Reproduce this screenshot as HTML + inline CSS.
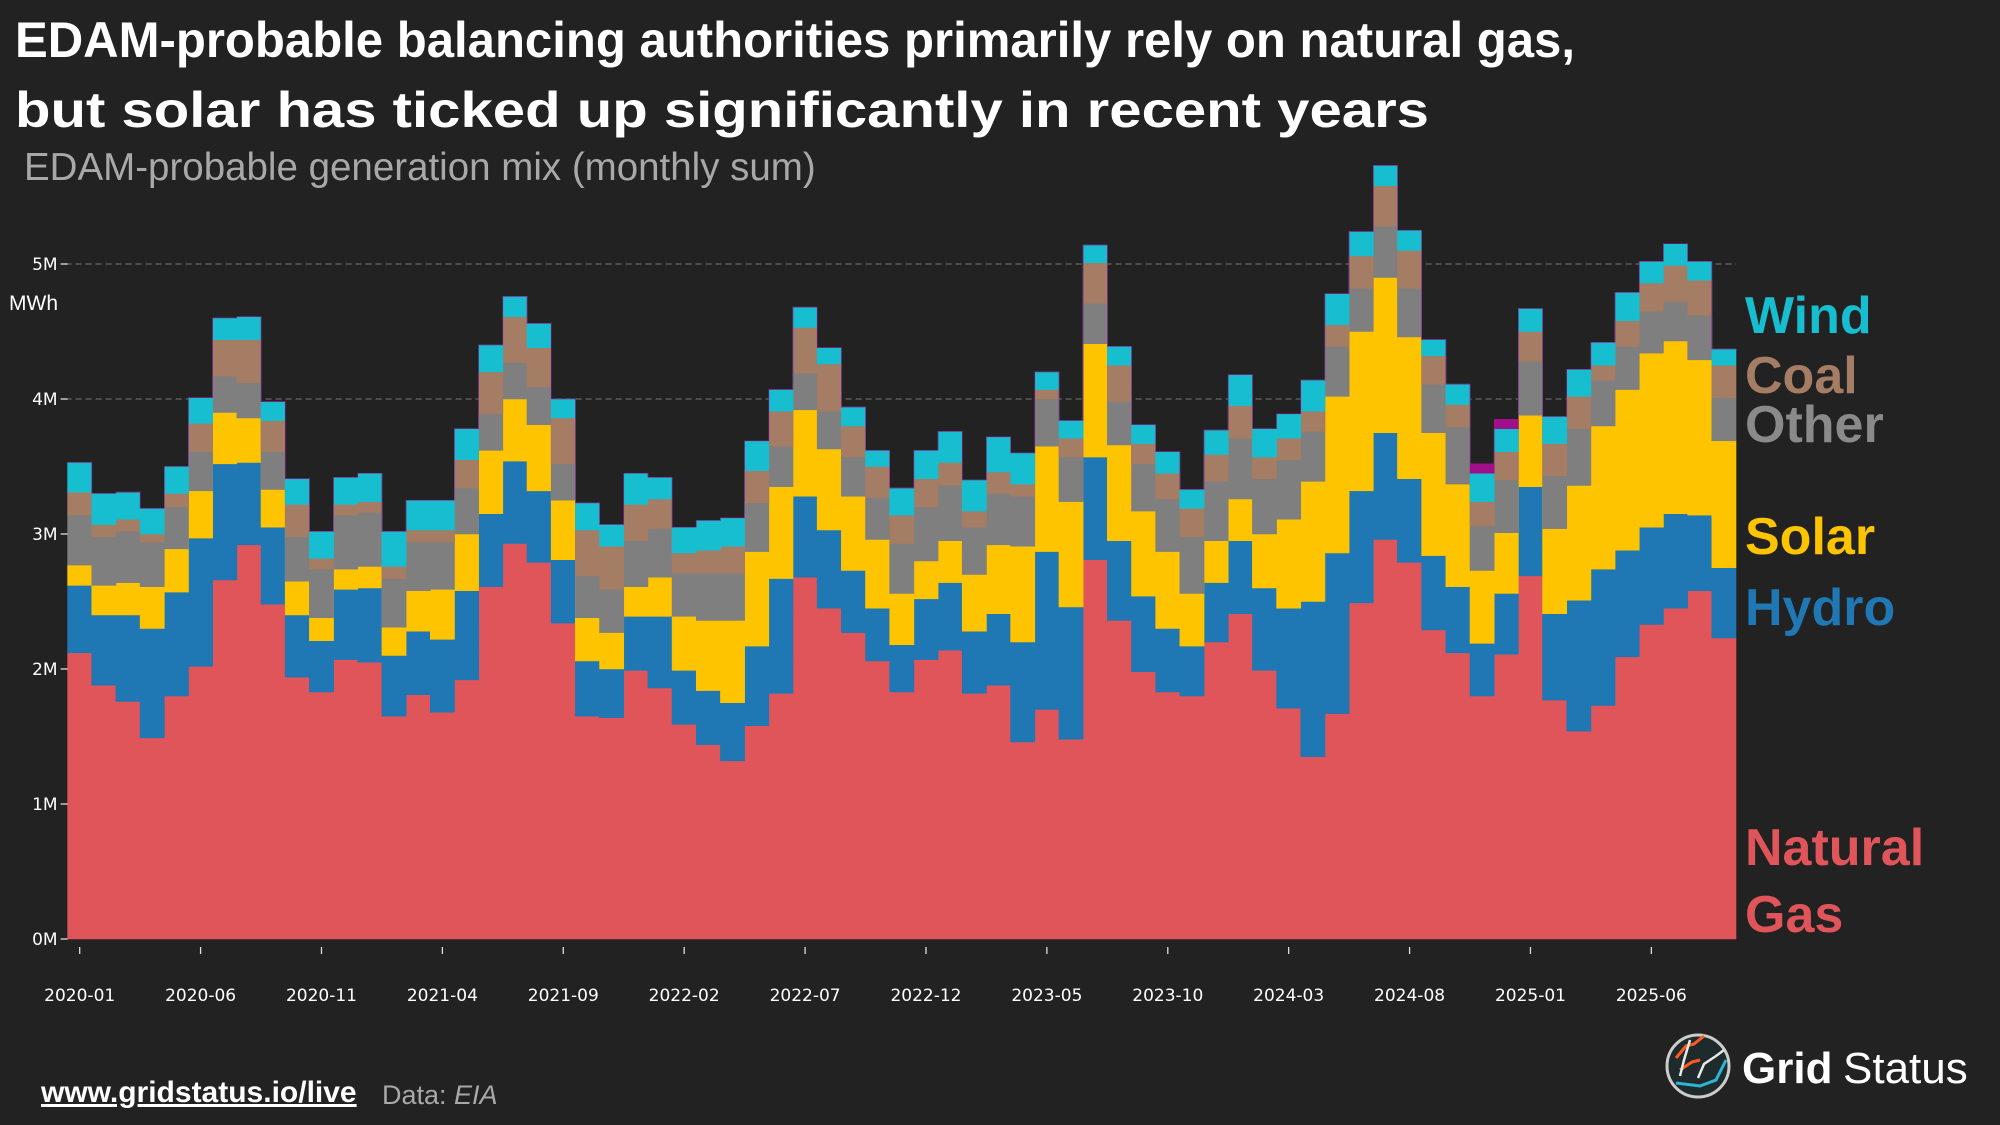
<!DOCTYPE html>
<html><head><meta charset="utf-8">
<style>
html,body{margin:0;padding:0;background:#222222;}
body{width:2000px;height:1125px;overflow:hidden;position:relative;font-family:"Liberation Sans",sans-serif;}
svg{position:absolute;left:0;top:0;}
</style></head>
<body>
<svg id="chart" width="2000" height="1125" viewBox="0 0 2000 1125">
  <rect x="0" y="0" width="2000" height="1125" fill="#222222"/>
  <text x="15" y="57" fill="#ffffff" font-size="50" font-weight="bold" textLength="1560" lengthAdjust="spacingAndGlyphs" font-family="Liberation Sans, sans-serif">EDAM-probable balancing authorities primarily rely on natural gas,</text>
  <text x="15" y="127" fill="#ffffff" font-size="50" font-weight="bold" textLength="1414" lengthAdjust="spacingAndGlyphs" font-family="Liberation Sans, sans-serif">but solar has ticked up significantly in recent years</text>
  <text x="24" y="180" fill="#a8a8a8" font-size="38.5" font-family="Liberation Sans, sans-serif">EDAM-probable generation mix (monthly sum)</text>
  <text x="9" y="310" fill="#ffffff" font-size="21" font-family="Liberation Sans, sans-serif">MWh</text>
  <g id="grid"></g>
  <g id="areas"></g>
  <g id="axes"></g>
  <g id="legend">
    <text x="1745" y="333" fill="#17becf" font-size="52" font-weight="bold">Wind</text>
    <text x="1745" y="393" fill="#a57c64" font-size="52" font-weight="bold">Coal</text>
    <text x="1745" y="442" fill="#8a8a8a" font-size="52" font-weight="bold">Other</text>
    <text x="1745" y="554" fill="#ffc400" font-size="52" font-weight="bold">Solar</text>
    <text x="1745" y="625" fill="#1f77b4" font-size="52" font-weight="bold">Hydro</text>
    <text x="1745" y="865" fill="#e0555a" font-size="52" font-weight="bold">Natural</text>
    <text x="1745" y="932" fill="#e0555a" font-size="52" font-weight="bold">Gas</text>
  </g>
  <text x="41" y="1102" fill="#ffffff" font-size="30" font-weight="bold" text-decoration="underline">www.gridstatus.io/live</text>
  <text x="382" y="1104" fill="#a8a8a8" font-size="27">Data: <tspan font-style="italic">EIA</tspan></text>
  <g>
    <circle cx="1698" cy="1066" r="31" fill="#1f2a2c" stroke="#cccccc" stroke-width="3"/>
    <path d="M1676 1058 L1686 1046 L1694 1044 L1704 1036 M1680 1070 L1692 1062 L1700 1060" stroke="#ff5a1f" stroke-width="3" fill="none"/>
    <path d="M1690 1040 L1684 1060 L1680 1076 M1698 1078 L1704 1064 L1716 1056 L1724 1050" stroke="#e8e8e8" stroke-width="2.5" fill="none"/>
    <path d="M1676 1083 L1700 1086 L1716 1080 L1726 1060" stroke="#2bb6d3" stroke-width="3" fill="none"/>
    <text x="1742" y="1083" fill="#ffffff" font-size="44" font-weight="bold">Grid</text>
    <text x="1843" y="1083" fill="#ffffff" font-size="44">Status</text>
  </g>
</svg>
<script>
const months = ["2020-01","2020-02","2020-03","2020-04","2020-05","2020-06","2020-07","2020-08","2020-09","2020-10","2020-11","2020-12",
"2021-01","2021-02","2021-03","2021-04","2021-05","2021-06","2021-07","2021-08","2021-09","2021-10","2021-11","2021-12",
"2022-01","2022-02","2022-03","2022-04","2022-05","2022-06","2022-07","2022-08","2022-09","2022-10","2022-11","2022-12",
"2023-01","2023-02","2023-03","2023-04","2023-05","2023-06","2023-07","2023-08","2023-09","2023-10","2023-11","2023-12",
"2024-01","2024-02","2024-03","2024-04","2024-05","2024-06","2024-07","2024-08","2024-09","2024-10","2024-11","2024-12",
"2025-01","2025-02","2025-03","2025-04","2025-05","2025-06","2025-07","2025-08","2025-09"];
const gas = [2.12,1.88,1.76,1.49,1.80,2.02,2.66,2.92,2.48,1.94,1.83,2.07,2.05,1.65,1.81,1.68,1.92,2.61,2.93,2.79,2.34,1.65,1.64,1.99,1.86,1.59,1.44,1.32,1.58,1.82,2.68,2.45,2.27,2.06,1.83,2.07,2.14,1.82,1.88,1.46,1.70,1.48,2.81,2.36,1.98,1.83,1.80,2.20,2.41,1.99,1.71,1.35,1.67,2.49,2.96,2.79,2.29,2.12,1.80,2.11,2.69,1.77,1.54,1.73,2.09,2.33,2.45,2.58,2.23];
const hydro = [.50,.52,.64,.81,.77,.95,.86,.61,.57,.46,.38,.52,.55,.45,.47,.54,.66,.54,.61,.53,.47,.41,.36,.40,.53,.40,.40,.43,.59,.85,.60,.58,.46,.39,.35,.45,.50,.46,.53,.74,1.17,.98,.76,.59,.56,.47,.37,.44,.54,.61,.74,1.15,1.19,.83,.79,.62,.55,.49,.39,.45,.66,.64,.97,1.01,.79,.72,.70,.56,.52];
const solar = [.15,.22,.24,.31,.32,.35,.38,.33,.28,.25,.17,.15,.16,.21,.30,.37,.42,.47,.46,.49,.44,.32,.27,.22,.29,.40,.52,.61,.70,.68,.64,.60,.55,.51,.38,.28,.31,.42,.51,.71,.78,.78,.84,.71,.63,.57,.39,.31,.31,.40,.66,.89,1.16,1.18,1.15,1.05,.91,.76,.54,.45,.53,.63,.85,1.06,1.19,1.29,1.28,1.15,.94];
const other = [.37,.36,.38,.33,.31,.29,.27,.26,.28,.33,.36,.40,.40,.36,.36,.35,.34,.27,.27,.28,.27,.31,.32,.34,.36,.32,.35,.35,.36,.30,.27,.28,.29,.31,.37,.40,.41,.35,.38,.37,.35,.33,.30,.32,.35,.39,.42,.44,.45,.41,.44,.37,.37,.32,.38,.36,.36,.42,.33,.39,.40,.39,.42,.34,.32,.31,.29,.33,.32];
const coal = [.17,.09,.09,.06,.10,.21,.27,.32,.23,.24,.08,.08,.08,.09,.09,.09,.21,.31,.34,.29,.34,.34,.32,.27,.22,.15,.17,.20,.24,.26,.34,.35,.23,.23,.21,.21,.17,.12,.16,.09,.07,.14,.30,.27,.15,.19,.21,.20,.24,.16,.16,.15,.16,.24,.30,.28,.21,.17,.18,.21,.22,.24,.24,.11,.19,.21,.27,.26,.24];
const wind = [.22,.23,.20,.19,.20,.19,.16,.17,.14,.19,.20,.20,.21,.26,.22,.22,.23,.20,.15,.18,.14,.20,.16,.23,.16,.19,.22,.21,.22,.16,.15,.12,.14,.12,.20,.21,.23,.23,.26,.23,.13,.13,.13,.14,.14,.16,.14,.18,.23,.21,.18,.23,.23,.18,.15,.15,.12,.15,.21,.17,.17,.20,.20,.17,.21,.16,.16,.14,.12];
const storage = [0,0,0,0,0,0,0,0,0,0,0,0,0,0,0,0,0,0,0,0,0,0,0,0,0,0,0,0,0,0,0,0,0,0,0,0,0,0,0,0,0,0,0,0,0,0,0,0,0,0,0,0,0,0,0,0,0,0,.07,.07,0,0,0,0,0,0,0,0,0];
const yTicks = [0,1,2,3,4,5];
const yTickLabels = ["0M","1M","2M","3M","4M","5M"];
const xTickIdx = [0,5,10,15,20,25,30,35,40,45,50,55,60,65];

const NS = "http://www.w3.org/2000/svg";
const X0 = 67.6, X1 = 1736, Y0 = 939, PX_PER_M = 135;
const bw = (X1 - X0) / months.length;
function xL(i){ return X0 + i * bw; }
function xC(i){ return X0 + (i + 0.5) * bw; }
function yS(v){ return Y0 - v * PX_PER_M; }
function mk(tag, attrs, parent){ const e = document.createElementNS(NS, tag); for (const k in attrs) e.setAttribute(k, attrs[k]); parent.appendChild(e); return e; }

const grid = document.getElementById("grid");
const axes = document.getElementById("axes");
const areas = document.getElementById("areas");

yTicks.forEach((t, i) => {
  if (t > 0) {
    const gl = mk("line", {x1: X0 - 2, x2: X1, y1: yS(t), y2: yS(t), stroke: "#666", "stroke-width": 1.3, "stroke-dasharray": "6,4"}, grid);
    
    
  }
  const tk = mk("line", {x1: X0 - 7, x2: X0, y1: yS(t), y2: yS(t), stroke: "#ddd", "stroke-width": 1.3}, axes);
  
  
  const lb = mk("text", {x: X0 - 10, y: yS(t) + 6, fill: "#ffffff", "font-size": 17, "text-anchor": "end", "font-family": "DejaVu Sans, sans-serif"}, axes);
  lb.textContent = yTickLabels[i];
  
  
});

xTickIdx.forEach(i => {
  const tk = mk("line", {x1: xC(i), x2: xC(i), y1: Y0 + 8, y2: Y0 + 15, stroke: "#ddd", "stroke-width": 1.3}, axes);
  
  
  const lb = mk("text", {x: xC(i), y: Y0 + 62, fill: "#ffffff", "font-size": 17, "text-anchor": "middle", "font-family": "DejaVu Sans, sans-serif"}, axes);
  lb.textContent = months[i];
  
  
});

const series = [
  {name: "natural-gas", vals: gas, color: "#e0555a"},
  {name: "hydro", vals: hydro, color: "#1f77b4"},
  {name: "solar", vals: solar, color: "#ffc400"},
  {name: "other", vals: other, color: "#7f7f7f"},
  {name: "coal", vals: coal, color: "#a57c64"},
  {name: "wind", vals: wind, color: "#17becf"},
  {name: "storage", vals: storage, color: "#a0108a"}
];
const base = months.map(() => 0);
series.forEach(s => {
  const top = base.map((b, i) => b + s.vals[i]);
  let d = "";
  for (let i = 0; i < months.length; i++) {
    d += (i === 0 ? "M" : "L") + xL(i).toFixed(2) + " " + yS(top[i]).toFixed(2) + " L" + xL(i + 1).toFixed(2) + " " + yS(top[i]).toFixed(2) + " ";
  }
  for (let i = months.length - 1; i >= 0; i--) {
    d += "L" + xL(i + 1).toFixed(2) + " " + yS(base[i]).toFixed(2) + " L" + xL(i).toFixed(2) + " " + yS(base[i]).toFixed(2) + " ";
  }
  d += "Z";
  const p = mk("path", {d: d, fill: s.color, stroke: s.color, "stroke-width": 0.6}, areas);
  
  
  for (let i = 0; i < months.length; i++) base[i] = top[i];
});
</script>
</body></html>
